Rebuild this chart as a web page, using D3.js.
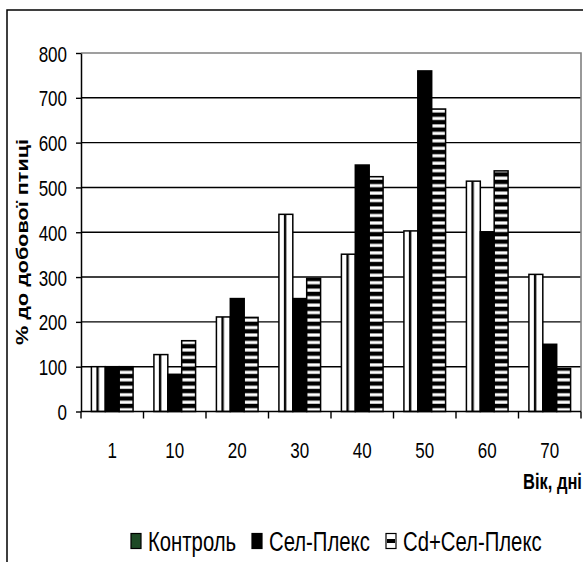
<!DOCTYPE html>
<html>
<head>
<meta charset="utf-8">
<script src="https://cdn.jsdelivr.net/npm/d3@7"></script>
<style>
  html, body { margin: 0; padding: 0; background: #fff; }
  svg { display: block; }
  text { font-family: "Liberation Sans", Arial, sans-serif; fill: #000; }
</style>
</head>
<body>
<div id="chart"></div>
<script>
// ---- data ----
const categories = ["1", "10", "20", "30", "40", "50", "60", "70"];
const seriesNames = ["Контроль", "Сел-Плекс", "Cd+Сел-Плекс"];
const kontrol    = [100, 127, 211, 440, 351, 403, 514, 306];
const selPleks   = [100,  83, 252, 252, 550, 760, 401, 150];
const cdSelPleks = [100, 158, 210, 297, 524, 675, 537,  96];
const yTicks = [0, 100, 200, 300, 400, 500, 600, 700, 800];
const yTitle = "% до добової птиці";
const xTitle = "Вік, дні";

const W = 583, H = 562;
const plot = { left: 81, right: 581, top: 53, bottom: 411.5 };
const stretch = 1.35;

const svg = d3.select("#chart").append("svg")
  .attr("width", W).attr("height", H);

const defs = svg.append("defs");
// vertical stripes (Контроль)
const pv = defs.append("pattern").attr("id", "pVert")
  .attr("patternUnits", "objectBoundingBox").attr("patternContentUnits", "objectBoundingBox")
  .attr("width", 1).attr("height", 1);
pv.append("rect").attr("x", 0).attr("y", 0).attr("width", 1).attr("height", 1).attr("fill", "#fff");
pv.append("rect").attr("x", 0.36).attr("y", 0).attr("width", 0.17).attr("height", 1).attr("fill", "#000");
// horizontal stripes (Cd+Сел-Плекс)
const y = d3.scaleLinear().domain([0, 800]).range([plot.bottom, plot.top]);
const period = (y(0) - y(100)) / 6;
const ph = defs.append("pattern").attr("id", "pHoriz")
  .attr("patternUnits", "userSpaceOnUse")
  .attr("x", 0).attr("y", plot.bottom)
  .attr("width", 10).attr("height", period);
ph.append("rect").attr("width", 10).attr("height", period).attr("fill", "#fff");
ph.append("rect").attr("y", 0).attr("width", 10).attr("height", period * 0.52).attr("fill", "#000");
ph.append("rect").attr("y", period * 0.52).attr("width", 10).attr("height", 0.6).attr("fill", "#777");
ph.append("rect").attr("y", period - 0.6).attr("width", 10).attr("height", 0.6).attr("fill", "#999");

const fills = ["url(#pVert)", "#000", "url(#pHoriz)"];

// ---- outer frame ----
svg.append("path")
  .attr("d", `M7,${H} L7,10 L${W},10`)
  .attr("fill", "none").attr("stroke", "#000").attr("stroke-width", 1.5);

// ---- scales ----
const x = d3.scaleBand().domain(categories).range([plot.left, plot.right]).paddingInner(0).paddingOuter(0);
const bw = x.bandwidth() / 4.5;
const x1 = d3.scaleBand().domain(seriesNames)
  .range([(x.bandwidth() - 3 * bw) / 2, (x.bandwidth() + 3 * bw) / 2]);

// ---- gridlines ----
svg.append("g").selectAll("line").data(yTicks.filter(v => v > 0 && v < 800)).join("line")
  .attr("x1", plot.left).attr("x2", plot.right)
  .attr("y1", d => y(d)).attr("y2", d => y(d))
  .attr("stroke", "#000").attr("stroke-width", 1.4);
// plot area border top/right (gray)
svg.append("path")
  .attr("d", `M${plot.left},${y(800)} L${plot.right},${y(800)} L${plot.right},${plot.bottom}`)
  .attr("fill", "none").attr("stroke", "#808080").attr("stroke-width", 1.6);

// ---- bars ----
const table = categories.map((c, i) => ({
  cat: c,
  vals: [kontrol[i], selPleks[i], cdSelPleks[i]]
}));
const groups = svg.append("g").selectAll("g").data(table).join("g")
  .attr("transform", d => `translate(${x(d.cat)},0)`);
groups.selectAll("rect").data(d => d.vals.map((v, k) => ({ v, k }))).join("rect")
  .attr("x", d => x1(seriesNames[d.k]))
  .attr("width", x1.bandwidth())
  .attr("y", d => y(d.v))
  .attr("height", d => y(0) - y(d.v))
  .attr("fill", d => fills[d.k])
  .attr("stroke", "#000")
  .attr("stroke-width", 1.5);

// ---- y axis ----
const yAxis = svg.append("g").attr("transform", `translate(${plot.left},0)`)
  .call(d3.axisLeft(y).tickValues(yTicks).tickSize(5).tickPadding(9).tickSizeOuter(0));
yAxis.select(".domain").attr("stroke", "#000").attr("stroke-width", 1.5);
yAxis.selectAll(".tick line").attr("stroke", "#000").attr("stroke-width", 1.4);
yAxis.selectAll(".tick text")
  .attr("font-size", 17).attr("font-family", "Liberation Sans, Arial, sans-serif")
  .attr("dy", "0.35em")
  .attr("transform", `scale(1,${stretch})`);

// ---- x axis ----
const xAxisG = svg.append("g");
xAxisG.append("line")
  .attr("x1", plot.left).attr("x2", plot.right)
  .attr("y1", plot.bottom).attr("y2", plot.bottom)
  .attr("stroke", "#000").attr("stroke-width", 1.5);
const boundaries = categories.map(c => x(c)).concat([x(categories[categories.length - 1]) + x.bandwidth()]);
xAxisG.selectAll("line.tk").data(boundaries).join("line").attr("class", "tk")
  .attr("x1", d => d).attr("x2", d => d)
  .attr("y1", plot.bottom).attr("y2", plot.bottom + 7)
  .attr("stroke", "#000").attr("stroke-width", 1.4);
xAxisG.selectAll("g.lbl").data(categories).join("g").attr("class", "lbl")
  .attr("transform", d => `translate(${x(d) + x.bandwidth() / 2},450) scale(1,${stretch})`)
  .append("text")
  .attr("text-anchor", "middle").attr("dy", "0.35em")
  .attr("font-size", 17)
  .text(d => d);

// ---- axis titles ----
svg.append("g").attr("transform", `translate(22,242) rotate(-90) scale(1.27,1)`)
  .append("text")
  .attr("text-anchor", "middle").attr("dy", "0.35em")
  .attr("font-size", 17).attr("font-weight", "bold")
  .text(yTitle);
svg.append("g").attr("transform", `translate(523,481) scale(1,${stretch})`)
  .append("text")
  .attr("dy", "0.35em")
  .attr("font-size", 16.5).attr("font-weight", "bold")
  .text(xTitle);

// ---- legend ----
const legendX = [131, 252, 386];
const swFill = ["#1e4a26", "#000", "url(#pHoriz)"];
const lg = svg.append("g").selectAll("g").data(seriesNames).join("g")
  .attr("transform", (d, i) => `translate(${legendX[i]},541)`);
lg.append("rect")
  .attr("x", 0).attr("y", -7.5).attr("width", 10).attr("height", 15)
  .attr("fill", (d, i) => i === 2 ? "#fff" : swFill[i])
  .attr("stroke", "#000").attr("stroke-width", 1.2);
lg.filter((d, i) => i === 2).append("rect")
  .attr("x", 1).attr("y", -2).attr("width", 8).attr("height", 4).attr("fill", "#000");
lg.append("g").attr("transform", `translate(17,0) scale(1,${stretch})`)
  .append("text")
  .attr("dy", "0.35em")
  .attr("font-size", 20.3)
  .text(d => d);
</script>
</body>
</html>
